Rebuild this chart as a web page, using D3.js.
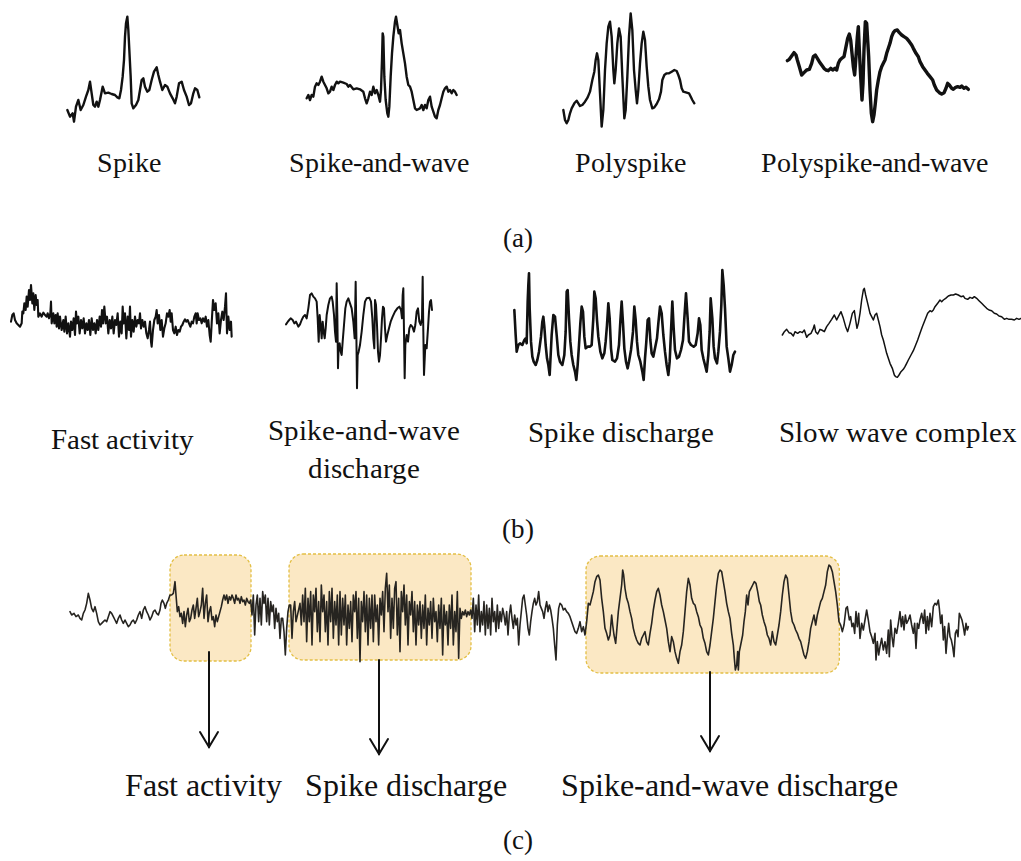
<!DOCTYPE html>
<html>
<head>
<meta charset="utf-8">
<script src="https://cdn.jsdelivr.net/npm/d3@7"></script>
<style>
  @font-face {
    font-family: "FigSerif";
    src: local("Liberation Serif"), local("LiberationSerif"), local("LiberationSerif-Regular"),
         local("Times New Roman"), local("TimesNewRomanPSMT"), local("DejaVu Serif"), local("DejaVuSerif"),
         local("Noto Serif"), local("NotoSerif-Regular");
  }
  body { margin: 0; background: #fff; }
</style>
</head>
<body>
<script>
// ---- (a) epileptiform transients: [time, amplitude] ----
const spike = [[22,60],[30,40],[38,50],[42,25],[48,70],[55,90],[62,60],[70,75],[78,100],[85,120],[90,145],[95,110],[100,75],[105,70],[110,85],[115,70],[120,90],[128,130],[135,110],[145,112],[155,108],[165,105],[172,98],[178,95],[183,120],[188,160],[192,210],[195,280],[198,320],[202,340],[205,300],[208,240],[212,160],[215,80],[220,65],[228,75],[235,90],[240,120],[245,150],[250,155],[255,130],[262,115],[268,120],[275,150],[282,175],[290,188],[295,165],[300,145],[307,120],[315,135],[322,130],[330,110],[338,95],[345,80],[350,100],[357,140],[365,145],[372,120],[380,100],[387,75],[393,80],[400,110],[405,125],[412,120],[418,98]];

const spikeAndWave = [[20,95],[25,105],[30,90],[35,105],[40,100],[45,130],[50,140],[55,135],[60,145],[65,160],[70,145],[75,135],[80,125],[85,110],[90,115],[95,130],[100,120],[105,135],[110,145],[115,140],[120,145],[130,142],[140,138],[145,130],[150,135],[160,122],[170,125],[180,122],[190,115],[195,95],[200,80],[205,95],[210,115],[215,105],[220,130],[225,110],[230,120],[235,105],[240,85],[243,120],[246,210],[248,290],[250,280],[253,160],[257,90],[262,50],[265,40],[268,70],[272,160],[276,230],[280,280],[285,325],[288,340],[292,315],[296,290],[300,300],[305,260],[310,230],[315,200],[320,160],[325,135],[330,130],[335,115],[340,90],[345,65],[350,60],[360,65],[365,75],[370,60],[375,75],[380,65],[385,90],[390,100],[395,70],[400,55],[405,40],[410,35],[415,60],[420,75],[425,95],[430,115],[435,125],[440,130],[445,115],[450,120],[455,110],[460,120],[465,115],[470,105]];

const polyspike = [[25,75],[30,45],[35,35],[40,45],[45,65],[50,80],[58,95],[65,103],[70,95],[75,87],[82,90],[90,100],[98,113],[105,130],[112,165],[118,190],[122,225],[126,245],[130,225],[135,125],[140,25],[145,75],[150,195],[155,275],[160,325],[165,340],[170,295],[175,195],[178,155],[182,195],[187,275],[192,320],[197,295],[202,175],[208,50],[212,75],[217,175],[222,295],[227,365],[232,315],[237,195],[242,135],[246,95],[250,135],[255,215],[260,275],[265,310],[270,285],[275,205],[280,145],[285,105],[292,80],[298,83],[305,93],[312,107],[318,130],[322,165],[328,180],[335,185],[342,185],[350,190],[358,195],[365,192],[370,180],[375,165],[380,140],[385,130],[395,127],[402,125],[408,113],[412,105],[418,95]];

const polyspikeAndWave = [[22,208],[28,212],[35,222],[42,232],[48,225],[52,210],[58,190],[65,165],[72,172],[80,180],[88,182],[95,200],[100,220],[106,225],[112,215],[118,205],[125,195],[132,185],[138,180],[145,178],[152,185],[158,180],[165,185],[170,180],[175,200],[180,210],[185,215],[192,220],[198,250],[203,275],[208,288],[212,270],[216,230],[220,190],[224,165],[228,220],[232,280],[235,310],[238,240],[242,160],[246,90],[249,140],[252,240],[256,325],[260,320],[263,270],[266,220],[270,120],[274,50],[278,25],[282,45],[286,80],[290,120],[295,150],[300,175],[305,190],[310,200],[315,210],[320,230],[325,245],[330,260],[335,280],[340,292],[345,298],[352,300],[358,292],[365,285],[372,280],[380,275],[388,265],[395,255],[400,245],[408,230],[415,220],[420,205],[428,190],[435,180],[442,170],[450,160],[458,150],[463,135],[470,120],[478,112],[485,108],[492,112],[498,125],[503,140],[508,135],[515,125],[520,122],[527,128],[533,130],[540,128],[545,132],[552,125],[558,128],[565,122]];

// ---- (b) rhythmic patterns ----
const fastActivity = [[18,115],[22,135],[26,140],[30,120],[35,110],[40,105],[45,100],[50,110],[52,145],[55,140],[58,170],[62,150],[65,190],[68,160],[72,210],[75,180],[78,225],[82,170],[85,200],[88,150],[92,195],[95,165],[98,180],[100,130],[105,140],[110,130],[115,142],[120,135],[125,130],[128,140],[132,125],[136,140],[138,175],[140,110],[145,140],[148,110],[152,135],[155,100],[158,140],[162,95],[165,130],[170,90],[175,120],[178,85],[182,130],[186,80],[190,110],[195,70],[198,115],[202,90],[206,125],[210,75],[213,145],[216,110],[220,130],[224,80],[228,120],[232,95],[236,125],[240,80],[244,110],[248,90],[252,120],[256,75],[260,125],[264,90],[268,110],[272,80],[276,120],[280,90],[284,130],[288,100],[291,150],[294,110],[298,160],[302,110],[306,130],[310,80],[314,120],[318,95],[322,130],[326,80],[330,120],[334,105],[338,140],[342,70],[346,115],[350,80],[353,160],[356,110],[360,140],[364,65],[368,130],[372,90],[375,160],[378,70],[382,120],[386,85],[390,130],[394,100],[398,120],[402,110],[405,140],[408,95],[412,120],[416,100],[420,115],[424,80],[428,65],[432,90],[435,115],[438,55],[440,40],[444,90],[448,120],[452,130],[455,150],[458,110],[462,135],[466,90],[470,120],[474,70],[478,95],[482,110],[486,140],[490,130],[494,150],[497,115],[500,140],[504,90],[508,80],[512,100],[516,75],[520,90],[524,85],[528,100],[532,105],[536,115],[540,122],[544,115],[548,120],[552,110],[556,100],[560,115],[564,110],[568,130],[572,140],[575,110],[578,140],[582,120],[586,125],[590,110],[594,125],[598,115],[602,130],[606,100],[610,120],[614,75],[617,55],[620,110],[624,180],[628,150],[632,170],[636,110],[640,140],[644,80],[648,120],[652,145],[656,120],[660,160],[663,200],[666,80],[670,130],[674,90],[678,115],[680,70]];

const spikeWaveDischarge = [[18,212],[25,222],[32,230],[38,225],[43,215],[48,220],[55,205],[60,212],[65,225],[70,235],[75,240],[80,230],[85,260],[90,300],[95,305],[100,295],[105,290],[110,280],[113,230],[116,160],[119,240],[122,210],[125,170],[128,220],[131,190],[134,170],[137,200],[140,240],[145,270],[150,290],[155,295],[158,280],[162,240],[165,190],[168,160],[170,335],[172,240],[174,80],[176,150],[179,155],[182,130],[185,120],[188,160],[192,210],[196,260],[200,280],[205,290],[210,275],[215,260],[220,220],[224,170],[227,340],[229,190],[231,20],[233,120],[236,130],[240,150],[245,190],[250,240],[255,280],[260,290],[268,292],[273,280],[277,230],[280,170],[283,140],[285,285],[288,270],[291,210],[294,130],[297,100],[300,120],[303,170],[306,230],[309,265],[312,260],[315,200],[318,160],[322,180],[327,200],[332,220],[338,235],[345,250],[352,260],[358,265],[363,255],[366,230],[368,300],[370,320],[372,190],[374,50],[376,150],[380,180],[384,160],[388,200],[392,210],[397,205],[402,190],[406,210],[410,250],[414,260],[418,220],[422,210],[426,230],[428,355],[430,190],[432,60],[436,150],[440,140],[444,200],[447,250],[450,280],[453,285],[456,255]];

const spikeDischarge = [[28,240],[32,165],[35,115],[40,135],[45,140],[52,135],[58,150],[62,155],[65,140],[68,265],[70,315],[72,350],[74,245],[78,145],[82,100],[86,85],[92,75],[97,90],[102,115],[108,160],[112,205],[115,220],[118,190],[122,135],[126,95],[130,75],[134,45],[137,105],[140,165],[145,225],[150,220],[155,165],[160,105],[165,85],[172,75],[178,105],[182,175],[185,295],[188,300],[192,215],[196,145],[200,105],[205,75],[210,55],[214,30],[218,75],[222,135],[226,200],[230,250],[234,235],[238,160],[242,125],[248,130],[255,130],[260,135],[265,215],[268,295],[272,275],[276,210],[280,160],[286,115],[292,95],[298,110],[302,145],[306,195],[310,260],[314,215],[318,125],[322,90],[330,85],[336,95],[342,135],[346,205],[350,265],[354,200],[358,125],[363,85],[368,65],[372,85],[378,120],[384,175],[388,250],[392,210],[396,145],[400,105],[406,85],[412,55],[416,30],[420,95],[424,145],[428,210],[432,215],[436,150],[440,110],[445,100],[450,125],[456,155],[460,200],[465,250],[470,230],[475,165],[480,115],[485,75],[490,45],[494,85],[498,175],[502,265],[506,185],[510,120],[516,95],[522,100],[528,120],[534,150],[538,215],[543,290],[548,215],[552,145],[558,135],[566,130],[572,135],[578,170],[582,215],[586,195],[590,120],[595,95],[600,75],[605,55],[610,105],[614,175],[617,275],[622,215],[626,130],[630,95],[636,80],[640,115],[645,175],[649,255],[652,360],[656,315],[660,245],[665,130],[670,95],[675,55],[680,75],[685,105],[690,115]];

const slowWaveComplex = [[22,150],[28,160],[35,167],[42,157],[48,155],[55,147],[60,160],[68,155],[75,160],[82,157],[88,165],[95,143],[100,150],[108,155],[115,170],[118,180],[122,160],[128,153],[135,167],[140,165],[148,160],[155,175],[162,185],[170,197],[178,210],[185,195],[190,205],[198,220],[205,200],[212,175],[218,160],[225,185],[232,215],[238,223],[242,195],[246,170],[250,185],[255,215],[260,255],[265,285],[268,290],[272,270],[278,245],[285,215],[290,205],[295,195],[300,210],[305,215],[310,195],[315,175],[320,150],[325,135],[330,115],[335,95],[340,80],[345,65],[352,50],[358,30],[362,25],[367,23],[372,30],[378,40],[385,47],[390,55],[395,65],[400,75],[408,90],[415,103],[422,120],[428,135],[435,155],[442,175],[450,195],[458,215],[465,223],[470,220],[475,225],[480,235],[488,245],[495,255],[500,250],[505,255],[512,260],[520,267],[528,270],[535,270],[542,273],[550,270],[558,265],[565,267],[570,260],[578,257],[585,263],[592,260],[598,265],[605,260],[612,253],[620,245],[628,237],[635,230],[642,225],[650,223],[658,215],[665,213],[672,207],[680,205],[688,197],[695,200],[702,197],[710,197],[718,195],[725,200],[732,197],[738,200]];

// ---- (c) continuous recording ----
const recording = [[30,175],[35,165],[42,170],[48,160],[55,165],[60,155],[65,150],[70,170],[75,180],[80,200],[85,230],[90,210],[95,185],[100,175],[105,190],[110,170],[115,145],[120,135],[125,140],[130,145],[135,150],[140,145],[145,160],[150,175],[155,170],[160,160],[165,150],[170,140],[175,155],[180,165],[185,150],[190,140],[195,150],[200,140],[205,130],[210,135],[215,145],[220,150],[225,140],[230,150],[235,165],[240,175],[245,155],[250,180],[255,190],[260,175],[265,165],[270,150],[275,160],[280,175],[285,180],[290,170],[295,165],[300,180],[303,200],[307,210],[312,200],[316,185],[320,200],[325,210],[330,225],[335,225],[340,230],[345,265],[348,225],[352,175],[356,190],[360,160],[364,170],[368,140],[372,175],[376,130],[380,165],[384,185],[388,145],[392,155],[396,180],[400,195],[404,155],[408,185],[412,215],[416,160],[420,175],[424,195],[428,245],[432,155],[436,200],[440,225],[444,145],[448,175],[452,190],[456,150],[460,160],[464,130],[468,165],[472,145],[476,160],[480,175],[484,190],[488,210],[492,225],[496,210],[500,225],[504,200],[508,220],[512,210],[516,225],[520,215],[524,200],[528,225],[532,210],[536,215],[540,200],[544,220],[548,205],[552,210],[556,195],[560,215],[564,205],[568,200],[572,210],[576,165],[580,225],[584,105],[588,195],[592,225],[596,145],[600,215],[604,135],[608,235],[612,200],[616,225],[620,145],[624,215],[628,135],[632,205],[636,175],[640,195],[644,125],[648,185],[652,145],[656,170],[660,95],[664,155],[668,155],[672,115],[676,45],[680,125],[684,175],[688,195],[692,195],[696,95],[700,175],[704,205],[708,145],[720,200],[724,135],[728,225],[732,145],[736,245],[740,85],[744,215],[748,145],[752,235],[756,75],[760,225],[764,175],[768,245],[772,115],[776,205],[780,85],[784,255],[788,175],[792,225],[796,115],[800,205],[804,75],[808,235],[812,145],[816,245],[820,95],[824,205],[828,135],[832,225],[836,75],[840,235],[844,105],[848,215],[852,135],[856,225],[860,75],[864,195],[868,125],[872,205],[876,85],[880,225],[884,175],[888,235],[892,95],[896,215],[900,25],[904,205],[908,145],[912,235],[916,115],[920,225],[924,75],[928,215],[932,125],[936,225],[940,85],[944,225],[948,145],[952,195],[956,75],[960,215],[964,165],[968,235],[972,115],[976,245],[980,290],[984,175],[988,255],[992,95],[996,215],[1000,125],[1004,245],[1008,265],[1012,105],[1016,215],[1020,55],[1024,235],[1028,175],[1032,255],[1036,135],[1040,225],[1044,75],[1048,205],[1052,165],[1056,235],[1060,115],[1064,205],[1068,75],[1072,195],[1076,135],[1080,205],[1084,95],[1088,195],[1092,125],[1096,225],[1100,75],[1104,185],[1108,135],[1112,205],[1116,95],[1120,215],[1124,145],[1128,175],[1132,85],[1136,195],[1140,125],[1144,215],[1148,45],[1152,195],[1156,135],[1160,175],[1164,75],[1168,195],[1172,125],[1176,225],[1180,75],[1184,175],[1188,115],[1192,235],[1196,35],[1200,185],[1204,155],[1208,175],[1212,165],[1216,180],[1220,160],[1224,175],[1228,165],[1232,180],[1236,155],[1240,215],[1244,115],[1248,195],[1252,135],[1256,225],[1260,115],[1264,175],[1268,135],[1272,205],[1276,105],[1280,195],[1284,125],[1288,185],[1292,105],[1296,215],[1300,145],[1304,175],[1308,115],[1312,195],[1316,125],[1320,175],[1324,145],[1328,185],[1332,165],[1336,135],[1340,175],[1344,105],[1348,165],[1352,195],[1356,155],[1360,125],[1364,165],[1368,135],[1372,155],[1376,75],[1380,135],[1384,175],[1388,215],[1392,225],[1396,195],[1400,165],[1404,125],[1408,105],[1412,145],[1416,175],[1420,200],[1424,215],[1428,195],[1432,205],[1436,235],[1440,195],[1444,185],[1448,175],[1452,155],[1456,185],[1460,205],[1464,175],[1468,195],[1472,180],[1476,155],[1480,125],[1484,75],[1488,30],[1492,135],[1496,185],[1500,200],[1505,195],[1510,180],[1515,185],[1520,175],[1525,170],[1530,160],[1535,145],[1540,130],[1545,115],[1550,110],[1555,125],[1560,145],[1565,115],[1570,130],[1575,105],[1580,145],[1585,200],[1590,195],[1595,215],[1600,235],[1605,265],[1610,280],[1615,285],[1620,270],[1625,215],[1630,175],[1635,125],[1640,110],[1645,90],[1650,105],[1655,165],[1658,135],[1662,105],[1667,80],[1670,115],[1675,175],[1680,215],[1685,255],[1688,300],[1691,285],[1695,245],[1700,215],[1705,200],[1710,175],[1715,155],[1720,125],[1725,105],[1730,90],[1735,80],[1740,75],[1745,95],[1750,105],[1755,115],[1760,85],[1765,75],[1770,110],[1775,140],[1780,180],[1785,210],[1790,235],[1795,245],[1800,225],[1805,195],[1810,175],[1815,150],[1820,125],[1825,85],[1830,55],[1835,100],[1840,85],[1845,55],[1850,35],[1855,20],[1860,55],[1865,75],[1870,115],[1875,175],[1880,235],[1885,275],[1890,255],[1895,215],[1900,200],[1905,195],[1910,175],[1915,160],[1920,135],[1925,125],[1930,95],[1935,80],[1940,55],[1945,45],[1950,75],[1955,115],[1960,155],[1965,205],[1970,255],[1975,290],[1980,300],[1985,295],[1990,265],[1995,235],[2000,200],[2005,175],[2010,155],[2015,110],[2020,75],[2023,35],[2026,0],[2030,15],[2033,55],[2035,0],[2038,55],[2042,75],[2048,105],[2052,145],[2056,175],[2060,225],[2064,195],[2068,235],[2073,245],[2078,255],[2083,265],[2088,260],[2093,235],[2098,205],[2102,195],[2107,165],[2112,145],[2117,130],[2122,105],[2127,95],[2132,75],[2137,115],[2142,85],[2147,75],[2152,105],[2157,135],[2162,175],[2167,225],[2172,265],[2177,285],[2182,275],[2187,225],[2192,175],[2197,145],[2202,135],[2207,120],[2212,110],[2217,95],[2222,85],[2227,65],[2232,45],[2237,35],[2242,55],[2247,85],[2252,125],[2257,145],[2262,165],[2267,135],[2272,165],[2277,185],[2282,205],[2287,215],[2292,235],[2297,255],[2302,295],[2307,315],[2312,310],[2317,295],[2322,265],[2327,235],[2332,195],[2337,145],[2342,135],[2347,115],[2352,135],[2358,185],[2362,190],[2368,150],[2372,160],[2376,130],[2380,140],[2384,110],[2388,175],[2392,130],[2396,170],[2400,95],[2405,140],[2410,120],[2415,150],[2420,180],[2425,150],[2430,115],[2435,100],[2440,80],[2445,110],[2448,30],[2452,85],[2456,45],[2460,70],[2465,95],[2470,60],[2475,85],[2480,50],[2485,120],[2488,40],[2492,150],[2496,100],[2500,70],[2505,125],[2510,110],[2515,140],[2520,175],[2524,130],[2528,160],[2532,120],[2536,165],[2540,140],[2545,150],[2550,165],[2555,135],[2560,110],[2564,140],[2568,65],[2572,140],[2576,125],[2580,150],[2585,170],[2590,140],[2594,180],[2598,110],[2602,160],[2606,120],[2610,170],[2615,130],[2620,190],[2625,200],[2630,195],[2635,210],[2638,185],[2642,140],[2646,165],[2650,90],[2654,130],[2658,50],[2662,100],[2666,140],[2670,100],[2674,90],[2678,70],[2682,40],[2686,110],[2690,120],[2694,100],[2698,170],[2702,160],[2706,150],[2710,130],[2714,105],[2718,140],[2722,120],[2725,130]];

// highlighted time windows in the recording [start, end] and their names
const windowSpans = [[330, 573], [687, 1233], [1578, 2338]];
const windowNames = ["Fast activity", "Spike discharge", "Spike-and-wave discharge"];

const rowANames = ["Spike", "Spike-and-wave", "Polyspike", "Polyspike-and-wave"];
const rowBNames = [["Fast activity"], ["Spike-and-wave", "discharge"], ["Spike discharge"], ["Slow wave complex"]];
const panelTags = ["(a)", "(b)", "(c)"];

const SERIF = "FigSerif, 'Liberation Serif', 'Times New Roman', Times, 'DejaVu Serif', serif";

const svg = d3.select("body").append("svg")
  .attr("width", 1021).attr("height", 861)
  .style("display", "block");

// frame: pixel box a trace occupies; t/v: domain of time and amplitude
function makeScales(f) {
  return {
    x: d3.scaleLinear().domain(f.t).range([f.left, f.right]),
    y: d3.scaleLinear().domain(f.v).range([f.bottom, f.top])
  };
}

function drawTrace(data, f, width, color) {
  const s = makeScales(f);
  const line = d3.line().x(d => s.x(d[0])).y(d => s.y(d[1]));
  svg.append("path").datum(data)
    .attr("d", line)
    .attr("fill", "none")
    .attr("stroke", color)
    .attr("stroke-width", width)
    .attr("stroke-linejoin", "round")
    .attr("stroke-linecap", "round");
  return s;
}

function label(x, y, txt, size) {
  return svg.append("text")
    .attr("x", x).attr("y", y)
    .attr("text-anchor", "middle")
    .style("font-family", SERIF)
    .attr("font-size", size)
    .attr("fill", "#111")
    .text(txt);
}

// ---------- panel (a) ----------
const rowA = [
  { data: spike,            f: { t: [0, 450], v: [0, 360], left: 60,  right: 210, top: 10, bottom: 130 }, w: 2.4 },
  { data: spikeAndWave,     f: { t: [0, 495], v: [0, 360], left: 300, right: 465, top: 10, bottom: 130 }, w: 2.4 },
  { data: polyspike,        f: { t: [0, 435], v: [0, 375], left: 555, right: 700, top: 10, bottom: 135 }, w: 2.4 },
  { data: polyspikeAndWave, f: { t: [0, 585], v: [0, 300], left: 780, right: 975, top: 30, bottom: 130 }, w: 3.4 }
];
rowA.forEach(p => drawTrace(p.data, p.f, p.w, "#111"));

const rowALabelX = [129, 379, 630, 874];
rowANames.forEach((d, i) => label(rowALabelX[i], 172, d, 27.5));

// ---------- panel (b) ----------
const rowB = [
  { data: fastActivity,       f: { t: [0, 705], v: [0, 240], left: 5,   right: 240,  top: 280, bottom: 360 }, w: 2.1 },
  { data: spikeWaveDischarge, f: { t: [0, 480], v: [0, 390], left: 280, right: 440,  top: 265, bottom: 395 }, w: 2.0 },
  { data: spikeDischarge,     f: { t: [0, 705], v: [0, 375], left: 505, right: 740,  top: 265, bottom: 390 }, w: 2.6 },
  { data: slowWaveComplex,    f: { t: [0, 738], v: [0, 315], left: 775, right: 1021, top: 280, bottom: 385 }, w: 1.5 }
];
rowB.forEach(p => drawTrace(p.data, p.f, p.w, "#111"));

const rowBLabelX = [122, 364, 621, 898];
const rowBLabelY = [[449], [440, 478], [442], [442]];
rowBNames.forEach((lines, i) => {
  lines.forEach((ln, j) => label(rowBLabelX[i], rowBLabelY[i][j], ln, 28.5));
});

// ---------- panel (c) ----------
const cFrame = { t: [0, 2730], v: [0, 375], left: 60, right: 970, top: 545, bottom: 670 };
const cs = makeScales(cFrame);

// shaded windows sit under the trace
const boxTop = [555, 554, 556];
const boxBottom = [661, 660, 673];
svg.append("g").selectAll("rect").data(windowSpans).join("rect")
  .attr("x", d => cs.x(d[0]))
  .attr("width", d => cs.x(d[1]) - cs.x(d[0]))
  .attr("y", (d, i) => boxTop[i])
  .attr("height", (d, i) => boxBottom[i] - boxTop[i])
  .attr("rx", 14).attr("ry", 14)
  .attr("fill", "#fbe8c4")
  .attr("stroke", "#e3bf45")
  .attr("stroke-width", 1.3)
  .attr("stroke-dasharray", "3,2");

drawTrace(recording, cFrame, 1.6, "#262420");

// arrows from each window down to its label
const arrowX = [209, 379, 710];
const arrowStart = [652, 660, 672];
const arrowTip = [747, 754, 751];
const ag = svg.append("g").attr("stroke", "#111").attr("fill", "none")
  .attr("stroke-width", 2).attr("stroke-linecap", "round").attr("stroke-linejoin", "miter");
arrowX.forEach((x, i) => {
  ag.append("line").attr("x1", x).attr("x2", x)
    .attr("y1", arrowStart[i]).attr("y2", arrowTip[i]);
  ag.append("path")
    .attr("d", `M${x - 9},${arrowTip[i] - 15} L${x},${arrowTip[i]} L${x + 9},${arrowTip[i] - 15}`);
});

const cLabelX = [203.5, 406, 729.5];
windowNames.forEach((d, i) => label(cLabelX[i], 796, d, 32));

// panel tags
const tagY = [247, 538, 849];
panelTags.forEach((d, i) => label(518, tagY[i], d, 27));
</script>
</body>
</html>
